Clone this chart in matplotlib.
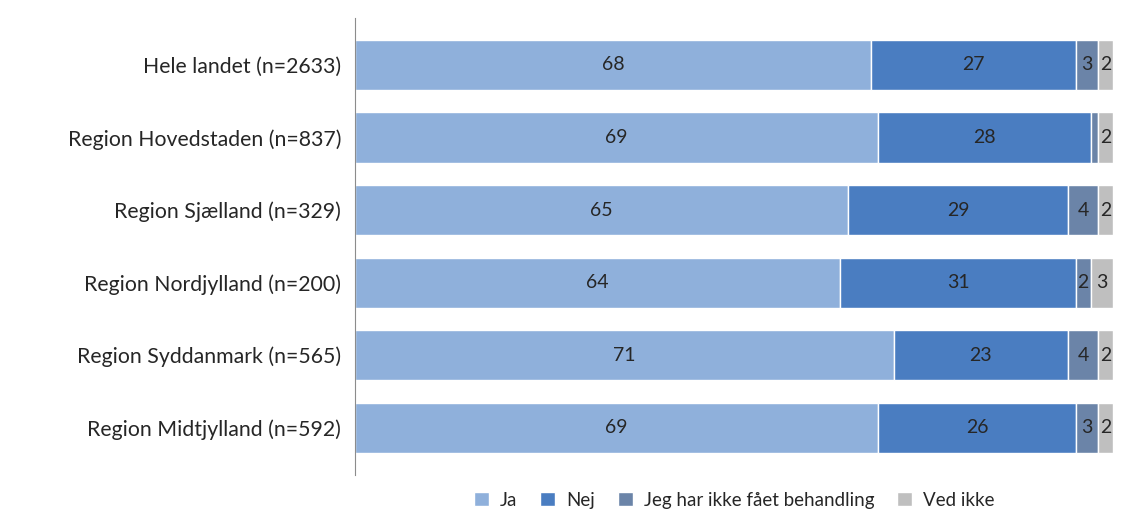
import matplotlib.pyplot as plt
import numpy as np

plt.rcParams['font.family'] = ['Lato', 'DejaVu Sans']

# Data
regions = ['Hele landet (n=2633)', 'Region Hovedstaden (n=837)', 'Region Sjælland (n=329)',
           'Region Nordjylland (n=200)', 'Region Syddanmark (n=565)', 'Region Midtjylland (n=592)']
ja = [68, 69, 65, 64, 71, 69]
nej = [27, 28, 29, 31, 23, 26]
ingen_behandling = [3, 1, 4, 2, 4, 3]
ved_ikke = [2, 2, 2, 3, 2, 2]

series = [ja, nej, ingen_behandling, ved_ikke]
names = ['Ja', 'Nej', 'Jeg har ikke fået behandling', 'Ved ikke']
colors = ['#8FB0DB', '#4A7DC1', '#6B84A8', '#BFBFBF']

fig = plt.figure(figsize=(11.27, 5.24), dpi=100)
ax = fig.add_axes([0.315, 0.094, 0.673, 0.872])

y = np.arange(len(regions))
left = np.zeros(len(regions))
for vals, name, col in zip(series, names, colors):
    bars = ax.barh(y, vals, left=left, height=0.69, color=col, edgecolor='white', linewidth=1, label=name)
    for b, v in zip(bars, vals):
        if v >= 2:
            ax.text(b.get_x() + b.get_width() / 2, b.get_y() + b.get_height() / 2, str(v),
                    ha='center', va='center', fontsize=14, color='#262626')
    left += np.array(vals)

ax.set_xlim(0, 100)
ax.set_ylim(len(regions) - 0.35, -0.65)
ax.set_yticks(y)
ax.set_yticklabels(regions, fontsize=15.3, color='#262626')
ax.set_xticks([])
ax.tick_params(axis='y', length=0, pad=10)
for s in ['top', 'right', 'bottom']:
    ax.spines[s].set_visible(False)
ax.spines['left'].set_color('#8C8C8C')

ax.legend(loc='upper center', bbox_to_anchor=(0.5, 0.0), ncol=4, frameon=False,
          fontsize=13.5, handlelength=0.8, handleheight=0.8, handletextpad=0.6,
          columnspacing=1.2, labelcolor='#262626')

fig.savefig('out.png', dpi=100)
